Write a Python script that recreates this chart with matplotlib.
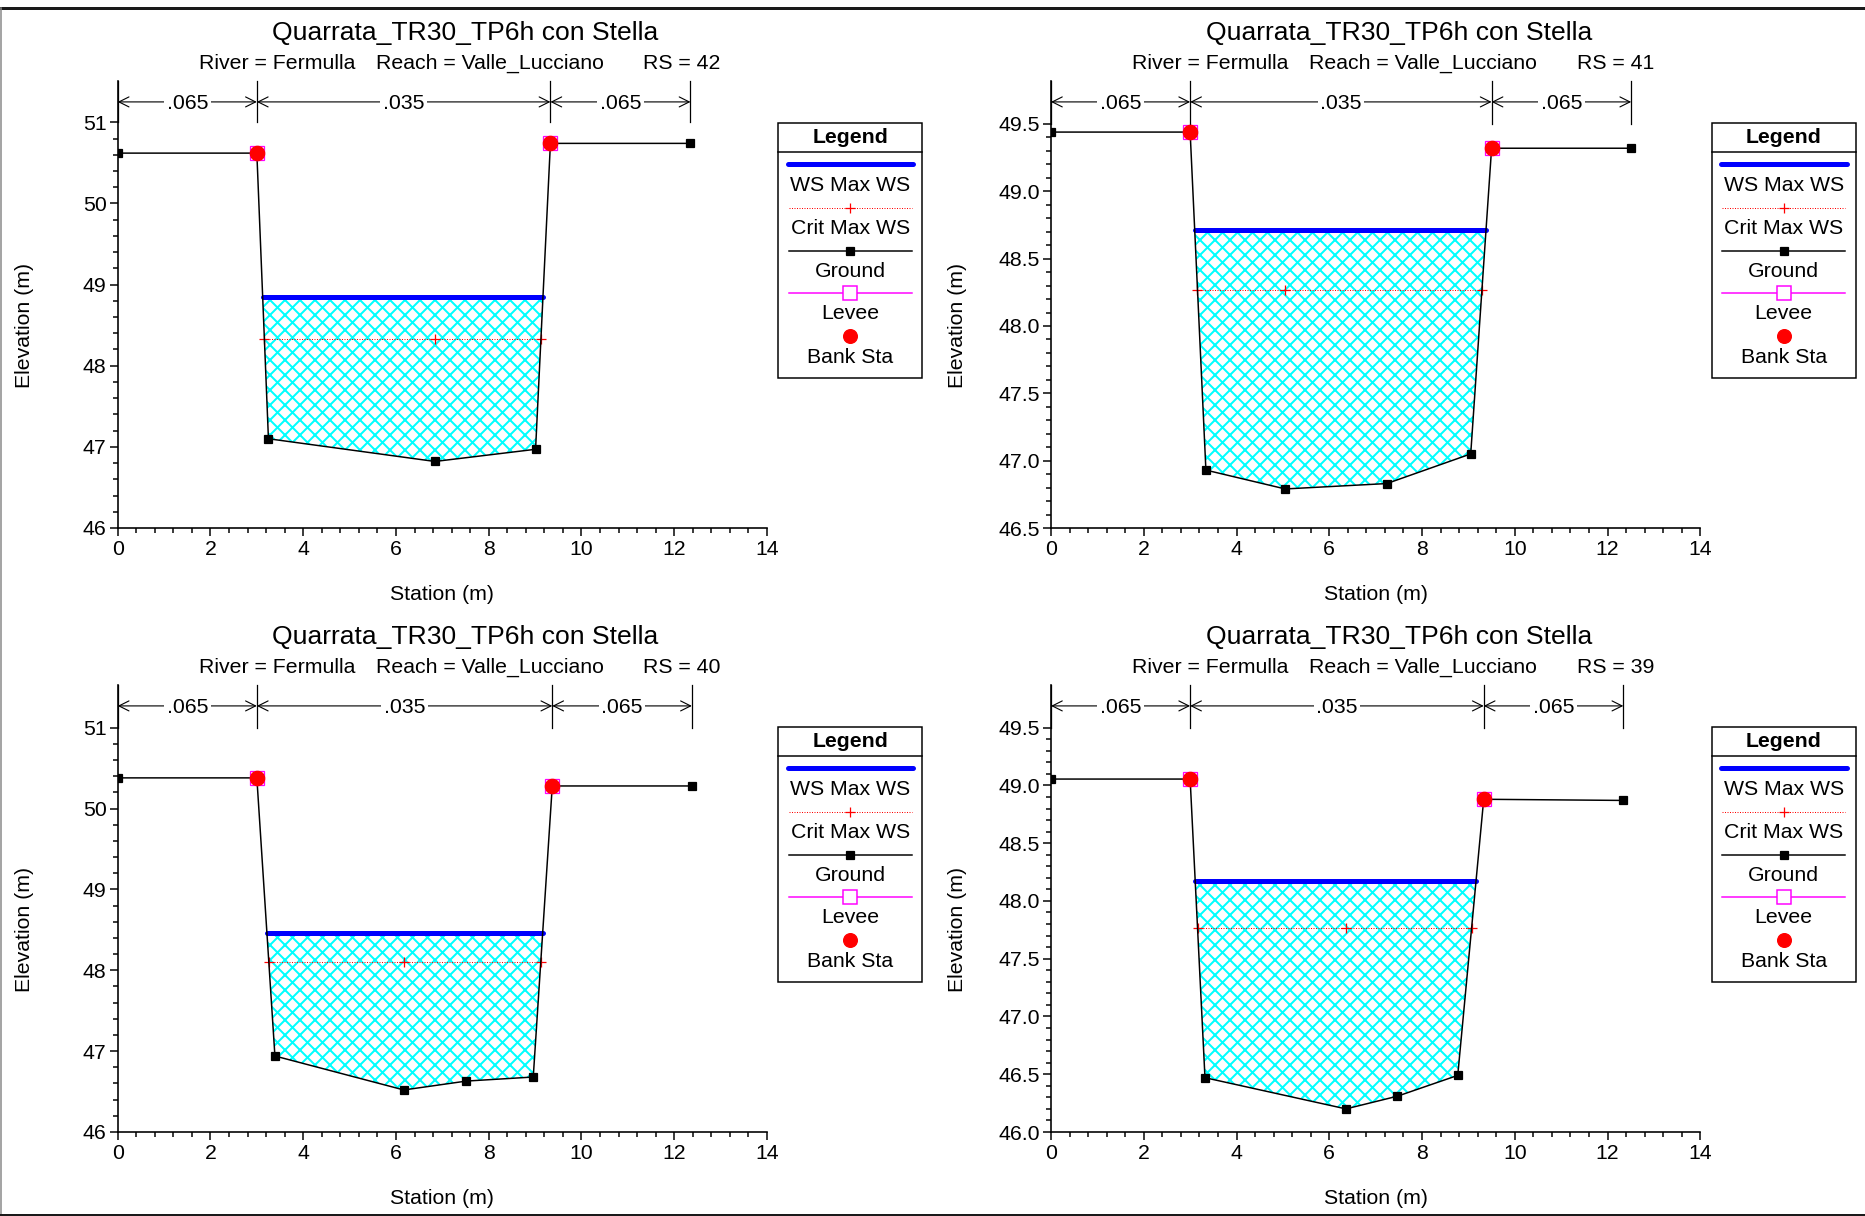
import matplotlib
matplotlib.use('Agg')
import matplotlib.pyplot as plt
import numpy as np
import matplotlib.transforms as mtransforms
from matplotlib.patches import FancyArrowPatch, Rectangle, Polygon
from matplotlib.lines import Line2D
from matplotlib.ticker import FixedLocator, FormatStrFormatter

plt.rcParams['font.family'] = ['Liberation Sans', 'DejaVu Sans']
plt.rcParams['hatch.linewidth'] = 1.6

DPI = 90
W, H = 1865, 1216

# ---------------- data ----------------
title = "Quarrata_TR30_TP6h con Stella"
river = "Fermulla"
reach = "Valle_Lucciano"
rs_labels = ["42", "41", "40", "39"]
n_values = [".065", ".035", ".065"]
legend_labels = ["WS Max WS", "Crit Max WS", "Ground", "Levee", "Bank Sta"]

sta_42 = [0.0, 3.0, 3.25, 6.84, 9.01, 9.33, 12.35]
elev_42 = [50.62, 50.62, 47.10, 46.82, 46.97, 50.74, 50.74]
ws_42 = 48.85
crit_42 = 48.33

sta_41 = [0.0, 3.0, 3.34, 5.05, 7.24, 9.05, 9.50, 12.51]
elev_41 = [49.44, 49.44, 46.93, 46.79, 46.83, 47.05, 49.32, 49.32]
ws_41 = 48.71
crit_41 = 48.27

sta_40 = [0.0, 3.0, 3.39, 6.17, 7.52, 8.96, 9.37, 12.38]
elev_40 = [50.38, 50.38, 46.94, 46.52, 46.63, 46.68, 50.28, 50.28]
ws_40 = 48.46
crit_40 = 48.10

sta_39 = [0.0, 3.0, 3.32, 6.36, 7.47, 8.77, 9.33, 12.34]
elev_39 = [49.055, 49.055, 46.47, 46.20, 46.31, 46.49, 48.88, 48.87]
ws_39 = 48.17
crit_39 = 47.77

x_ticks = [0, 2, 4, 6, 8, 10, 12, 14]
y_ticks_42 = [46, 47, 48, 49, 50, 51]
y_ticks_41 = [46.5, 47.0, 47.5, 48.0, 48.5, 49.0, 49.5]
y_ticks_40 = [46, 47, 48, 49, 50, 51]
y_ticks_39 = [46.0, 46.5, 47.0, 47.5, 48.0, 48.5, 49.0, 49.5]

# ---------------- layout ----------------
panels = [
    dict(sta=sta_42, elev=elev_42, ws=ws_42, crit=crit_42, rs=rs_labels[0],
         yt=y_ticks_42, ytop=51.51, fmt='%d', minor=0.2, ox=0.0, oy=0.0),
    dict(sta=sta_41, elev=elev_41, ws=ws_41, crit=crit_41, rs=rs_labels[1],
         yt=y_ticks_41, ytop=49.82, fmt='%.1f', minor=0.1, ox=933.3, oy=0.0),
    dict(sta=sta_40, elev=elev_40, ws=ws_40, crit=crit_40, rs=rs_labels[2],
         yt=y_ticks_40, ytop=51.53, fmt='%d', minor=0.2, ox=0.0, oy=604.0),
    dict(sta=sta_39, elev=elev_39, ws=ws_39, crit=crit_39, rs=rs_labels[3],
         yt=y_ticks_39, ytop=49.87, fmt='%.1f', minor=0.1, ox=933.3, oy=604.0),
]

AX_L, AX_R, AX_T, AX_B = 117.7, 767.0, 80.9, 528.0
FS = 17
FS_TITLE = 21.2

fig = plt.figure(figsize=(W / DPI, H / DPI), dpi=DPI)


def fx(x):
    return x / W


def fy(y):
    return 1 - y / H


def water_extent(sta, elev, level):
    sta = np.asarray(sta, float)
    elev = np.asarray(elev, float)
    i0 = int(np.argmin(elev))
    i = i0
    while elev[i - 1] < level:
        i -= 1
    xl = sta[i - 1] + (level - elev[i - 1]) * (sta[i] - sta[i - 1]) / (elev[i] - elev[i - 1])
    j = i0
    while elev[j + 1] < level:
        j += 1
    xr = sta[j] + (level - elev[j]) * (sta[j + 1] - sta[j]) / (elev[j + 1] - elev[j])
    poly = [(xl, level)] + list(zip(sta[i:j + 1], elev[i:j + 1])) + [(xr, level)]
    return xl, xr, poly, sta[i0]


def draw_legend(ox, oy):
    bx, by = 778.3 + ox, 122.7 + oy
    bw, bh = 144.0, 255.6
    lax = fig.add_axes([fx(bx), fy(by + bh), bw / W, bh / H])
    lax.set_xlim(0, bw)
    lax.set_ylim(bh, 0)
    lax.axis('off')
    lax.add_patch(Rectangle((0, 0), bw, bh, fill=False, lw=1.2, ec='black', clip_on=False))
    cx = bw / 2
    d = 2.0
    lax.text(cx, 12.5 + d, "Legend", fontsize=FS, fontweight='bold', ha='center', va='center')
    lax.plot([0, bw], [29.6, 29.6], color='black', lw=1.2, clip_on=False)
    lax.plot([9.4, 135], [41.6, 41.6], color='#0000ff', lw=4, solid_capstyle='round')
    lax.text(cx, 61 + d, legend_labels[0], fontsize=FS, ha='center', va='center')
    lax.plot([10.7, 133.4], [85, 85], color='red', lw=0.8, ls=(0, (1, 1.5)))
    lax.plot([cx], [85], marker='+', color='red', ms=8, mew=1)
    lax.text(cx, 104 + d, legend_labels[1], fontsize=FS, ha='center', va='center')
    lax.plot([10.7, 133.4], [128, 128], color='black', lw=1.2)
    lax.plot([cx], [128], marker='s', color='black', ms=6.4)
    lax.text(cx, 146.5 + d, legend_labels[2], fontsize=FS, ha='center', va='center')
    lax.plot([10.7, 133.4], [170, 170], color='#ff00ff', lw=1.2)
    lax.plot([cx], [170], marker='s', mfc='white', mec='#ff00ff', ms=11, mew=1.2)
    lax.text(cx, 189 + d, legend_labels[3], fontsize=FS, ha='center', va='center')
    lax.plot([cx], [213.3], marker='o', color='red', ms=11)
    lax.text(cx, 232.5 + d, legend_labels[4], fontsize=FS, ha='center', va='center')


for p in panels:
    ox, oy = p['ox'], p['oy']
    left, right = AX_L + ox, AX_R + ox
    top, bottom = AX_T + oy, AX_B + oy
    ax = fig.add_axes([fx(left), fy(bottom), (right - left) / W, (bottom - top) / H])
    ymin = p['yt'][0]
    ymaxtick = p['yt'][-1]
    ax.set_xlim(0, 14)
    ax.set_ylim(ymin, p['ytop'])
    ax.spines['top'].set_visible(False)
    ax.spines['right'].set_visible(False)
    for s in ('left', 'bottom'):
        ax.spines[s].set_linewidth(1.3)
    ax.xaxis.set_major_locator(FixedLocator(x_ticks))
    ax.xaxis.set_minor_locator(FixedLocator(np.arange(0, 14.001, 0.4)))
    ax.yaxis.set_major_locator(FixedLocator(p['yt']))
    nminor = int(round((ymaxtick - ymin) / p['minor']))
    ax.yaxis.set_minor_locator(FixedLocator(ymin + p['minor'] * np.arange(nminor + 1)))
    ax.yaxis.set_major_formatter(FormatStrFormatter(p['fmt']))
    ax.tick_params(which='major', direction='out', length=6.4, width=1.2, labelsize=FS)
    ax.tick_params(which='minor', direction='out', length=4, width=1.2)
    ax.tick_params(axis='x', which='major', pad=3.5)
    ax.tick_params(axis='y', which='major', pad=2.5)

    sta = np.asarray(p['sta'])
    elev = np.asarray(p['elev'])
    xl, xr, poly, thalweg = water_extent(sta, elev, p['ws'])
    ax.add_patch(Polygon(poly, closed=True, facecolor='white', edgecolor=(0, 1, 1),
                         hatch='xx', lw=0, zorder=1))
    cl, cr, _, _ = water_extent(sta, elev, p['crit'])
    ax.plot([cl, cr], [p['crit'], p['crit']], color='red', lw=0.8, ls=(0, (1, 1.5)), zorder=2)
    ax.plot([cl, thalweg, cr], [p['crit']] * 3, ls='none', marker='+', color='red',
            ms=8, mew=1, zorder=2)
    ax.plot([xl, xr], [p['ws'], p['ws']], color='#0000ff', lw=4, solid_capstyle='round', zorder=3)
    ax.plot(sta, elev, color='black', lw=1.2, marker='s', ms=6.6, zorder=4)
    banks_x = [sta[1], sta[-2]]
    banks_y = [elev[1], elev[-2]]
    ax.plot(banks_x, banks_y, ls='none', marker='s', mfc='none', mec='#ff00ff', ms=11,
            mew=1.0, zorder=5)
    ax.plot(banks_x, banks_y, ls='none', marker='o', color='red', ms=11.5, zorder=6)

    # Manning's n brackets
    trans = mtransforms.blended_transform_factory(ax.transData, ax.transAxes)
    xs = [sta[0], sta[1], sta[-2], sta[-1]]
    for x in xs:
        ax.plot([x, x], [ymaxtick, p['ytop']], color='black', lw=1, clip_on=False, zorder=5)
    yfrac = 0.953
    for k in range(3):
        arr = FancyArrowPatch(posA=(xs[k], yfrac), posB=(xs[k + 1], yfrac), transform=trans,
                              arrowstyle='<->,head_length=0.4,head_width=0.2',
                              mutation_scale=20, lw=0.9, color='black',
                              shrinkA=0, shrinkB=0, clip_on=False, zorder=5)
        ax.add_patch(arr)
        ax.text((xs[k] + xs[k + 1]) / 2, yfrac, n_values[k], transform=trans,
                fontsize=FS, ha='center', va='center_baseline', zorder=6,
                bbox=dict(boxstyle='square,pad=0.12', fc='white', ec='none'))

    # titles
    fig.text(fx(465.5 + ox), fy(33 + oy), title, fontsize=FS_TITLE, ha='center', va='center')
    fig.text(fx(277.0 + ox), fy(63.5 + oy), "River = " + river, fontsize=FS, ha='center', va='center')
    fig.text(fx(489.9 + ox), fy(63.5 + oy), "Reach = " + reach, fontsize=FS, ha='center', va='center')
    fig.text(fx(681.9 + ox), fy(63.5 + oy), "RS = " + p['rs'], fontsize=FS, ha='center', va='center')
    # axis labels
    fig.text(fx((left + right) / 2), fy(594 + oy), "Station (m)", fontsize=FS, ha='center', va='center')
    fig.text(fx(24.5 + ox), fy(325 + oy), "Elevation (m)", fontsize=FS, ha='center', va='center',
             rotation=90)

    draw_legend(ox, oy)

# frame lines
fig.add_artist(Line2D([0, 1], [fy(7.5), fy(7.5)], transform=fig.transFigure, color='#1a1a1a', lw=2.4))
fig.add_artist(Line2D([fx(1), fx(1)], [fy(7.5), fy(1214)], transform=fig.transFigure, color='#888888', lw=1.2))
fig.add_artist(Line2D([0, 1], [fy(1214.5), fy(1214.5)], transform=fig.transFigure, color='#1a1a1a', lw=1.6))

fig.savefig('out.png', dpi=DPI)
